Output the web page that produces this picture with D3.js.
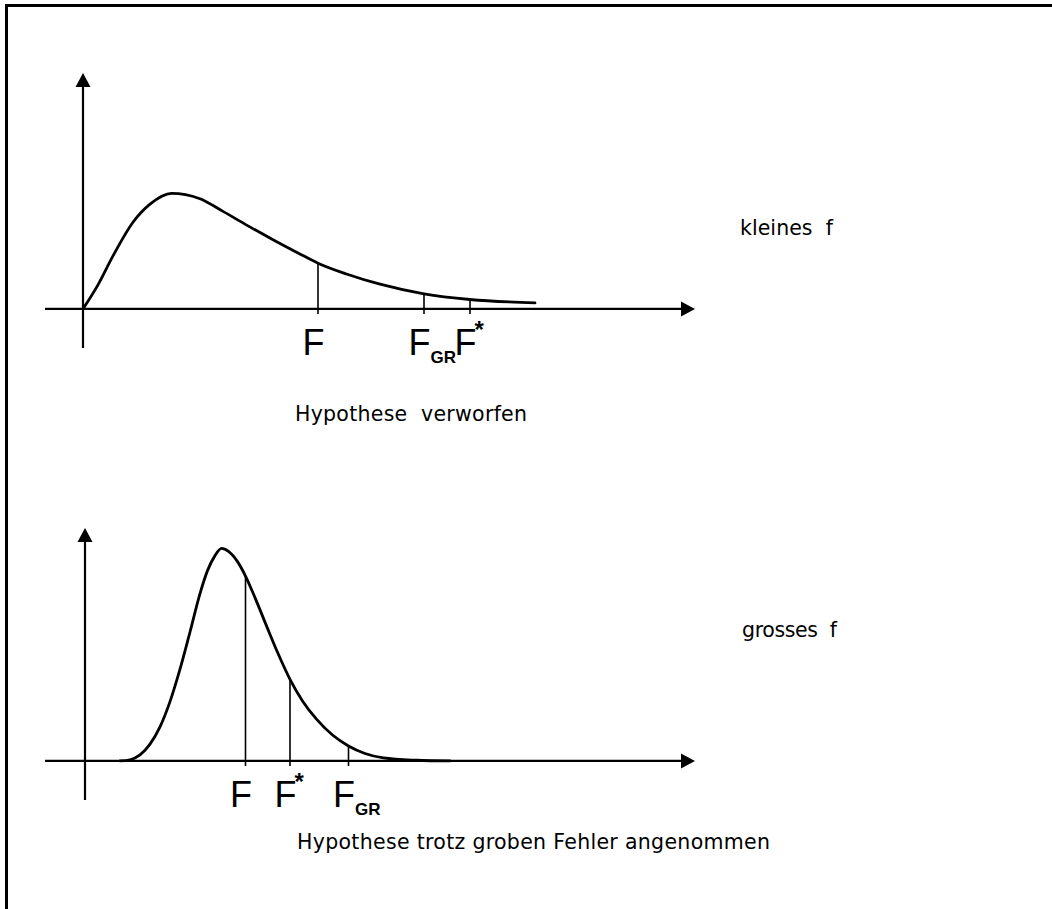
<!DOCTYPE html>
<html>
<head>
<meta charset="utf-8">
<script src="https://cdn.jsdelivr.net/npm/d3@7"></script>
<style>
  html, body { margin: 0; padding: 0; background: #fff; }
  svg { display: block; }
  text { white-space: pre; }
</style>
</head>
<body>
<script>
// Density curve for small f (upper panel): x in distribution units, y in density units
const smallFx = [0, 0.3, 0.6, 1.0, 1.34, 1.77, 2.05, 2.34, 2.8, 3.3, 3.8, 4.3, 4.7, 5.27, 5.94, 6.82, 7.74, 9.04];
const smallFy = [0, 0.2, 0.44, 0.72, 0.87, 0.96, 0.95, 0.915, 0.81, 0.69, 0.575, 0.465, 0.38, 0.29, 0.205, 0.125, 0.078, 0.05];

// Density curve for large f (lower panel)
const largeFx = [0.7, 0.9, 1.1, 1.3, 1.5, 1.7, 1.9, 2.1, 2.3, 2.45, 2.6, 2.73, 2.87, 3.05, 3.21, 3.4, 3.63, 3.85, 4.1, 4.35, 4.63, 4.95, 5.27, 5.6, 5.97, 6.63, 7.3];
const largeFy = [0, 0.01, 0.05, 0.14, 0.284, 0.494, 0.764, 1.074, 1.394, 1.585, 1.71, 1.77, 1.745, 1.66, 1.54, 1.36, 1.125, 0.905, 0.68, 0.5, 0.348, 0.216, 0.125, 0.062, 0.025, 0.006, 0];

// Marked abscissae (F, F_GR, F*) and the curve height at each
const smallMarkLabels = ["F", "F_GR", "F*"];
const smallMarkX = [4.7, 6.82, 7.74];
const smallMarkY = [0.38, 0.125, 0.078];

const largeMarkLabels = ["F", "F*", "F_GR"];
const largeMarkX = [3.21, 4.1, 5.27];
const largeMarkY = [1.54, 0.68, 0.125];

// Panel captions
const sideLabels = ["kleines  f", "grosses  f"];
const captions = ["Hypothese  verworfen", "Hypothese trotz groben Fehler angenommen"];

const W = 1052, H = 909;
const svg = d3.select("body").append("svg").attr("width", W).attr("height", H);

// frame: top and left rule
svg.append("path")
  .attr("d", `M6.5,${H} V5.5 H${W}`)
  .attr("fill", "none").attr("stroke", "#000").attr("stroke-width", 3);

const panels = [
  { cx: smallFx, cy: smallFy, mx: smallMarkX, my: smallMarkY, ml: smallMarkLabels,
    xDomain: [-0.76, 12.24], yDomain: [-0.325, 1.96], yRange: [348, 73],
    side: sideLabels[0], sidePos: [740, 235, 93],
    caption: captions[0], capPos: [295, 421, 232] },
  { cx: largeFx, cy: largeFy, mx: largeMarkX, my: largeMarkY, ml: largeMarkLabels,
    xDomain: [-0.8, 12.2], yDomain: [-0.325, 1.94], yRange: [800, 528],
    side: sideLabels[1], sidePos: [742, 637, 95],
    caption: captions[1], capPos: [297, 849, 473] }
];

const textFont = "'DejaVu Sans', 'Liberation Sans', sans-serif";
const markFont = "'Liberation Sans', Arial, sans-serif";

panels.forEach(p => {
  const x = d3.scaleLinear().domain(p.xDomain).range([45, 695]);
  const y = d3.scaleLinear().domain(p.yDomain).range(p.yRange);
  const g = svg.append("g");

  const x0 = x(0), y0 = y(0);
  const xEnd = x.range()[1], yTop = y.range()[1];
  const headLen = 14, headHalf = 7.5;

  // x axis with arrow head
  g.append("line")
    .attr("x1", x.range()[0]).attr("x2", xEnd - headLen + 1)
    .attr("y1", y0).attr("y2", y0)
    .attr("stroke", "#000").attr("stroke-width", 2.2);
  g.append("path")
    .attr("d", `M${xEnd},${y0} L${xEnd - headLen},${y0 - headHalf} L${xEnd - headLen},${y0 + headHalf} Z`)
    .attr("fill", "#000");

  // y axis with arrow head
  g.append("line")
    .attr("x1", x0).attr("x2", x0)
    .attr("y1", y.range()[0]).attr("y2", yTop + headLen - 1)
    .attr("stroke", "#000").attr("stroke-width", 2.2);
  g.append("path")
    .attr("d", `M${x0},${yTop} L${x0 - headHalf},${yTop + headLen} L${x0 + headHalf},${yTop + headLen} Z`)
    .attr("fill", "#000");

  // drop lines from the curve down through the axis
  g.selectAll("line.drop")
    .data(p.mx.map((v, i) => [v, p.my[i]]))
    .join("line")
    .attr("class", "drop")
    .attr("x1", d => x(d[0])).attr("x2", d => x(d[0]))
    .attr("y1", d => y(d[1])).attr("y2", y0 + 5)
    .attr("stroke", "#000").attr("stroke-width", 1.6);

  // density curve
  const line = d3.line()
    .x((d, i) => x(p.cx[i]))
    .y((d, i) => y(p.cy[i]))
    .curve(d3.curveMonotoneX);
  g.append("path")
    .attr("d", line(p.cx))
    .attr("fill", "none").attr("stroke", "#000").attr("stroke-width", 2.8)
    .attr("stroke-linejoin", "round").attr("stroke-linecap", "round");

  // F labels below the axis
  p.ml.forEach((lab, i) => {
    const lx = x(p.mx[i]);
    const t = g.append("text")
      .attr("x", lx - 15.5).attr("y", y0 + 46)
      .attr("font-family", markFont).attr("font-size", 36).attr("fill", "#000");
    t.append("tspan").text("F");
    if (lab === "F_GR") {
      t.append("tspan").text("GR")
        .attr("dx", 0).attr("dy", 8)
        .attr("font-size", 17).attr("font-weight", "bold");
    } else if (lab === "F*") {
      t.append("tspan").text("*")
        .attr("dx", -2).attr("dy", -17)
        .attr("font-size", 24).attr("font-weight", "bold");
    }
  });

  // side label and caption
  g.append("text")
    .attr("x", p.sidePos[0]).attr("y", p.sidePos[1])
    .attr("textLength", p.sidePos[2]).attr("lengthAdjust", "spacing")
    .attr("font-family", textFont).attr("font-size", 20.5).attr("fill", "#000")
    .text(p.side);
  g.append("text")
    .attr("x", p.capPos[0]).attr("y", p.capPos[1])
    .attr("textLength", p.capPos[2]).attr("lengthAdjust", "spacing")
    .attr("font-family", textFont).attr("font-size", 20.5).attr("fill", "#000")
    .text(p.caption);
});
</script>
</body>
</html>
